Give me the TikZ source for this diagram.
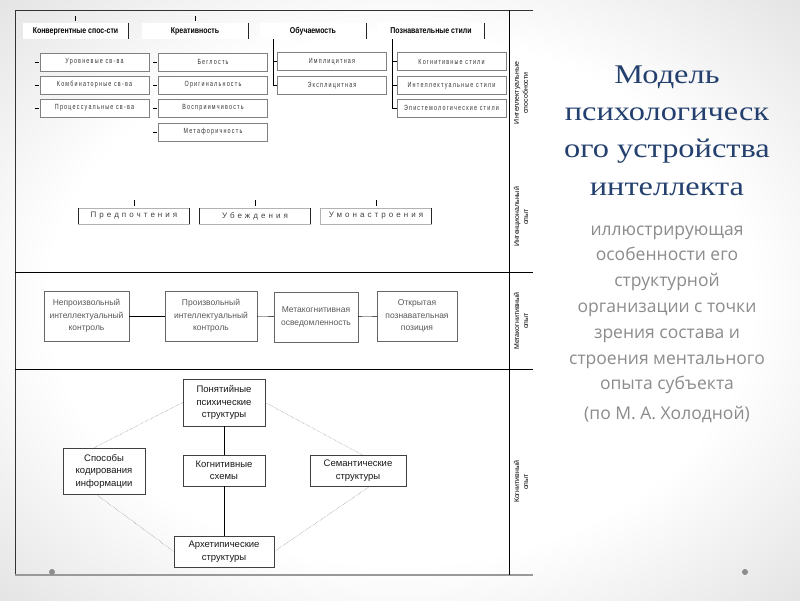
\documentclass[tikz,border=0pt]{standalone}
\usepackage{fontspec}
\setmainfont{Liberation Sans}
\newfontfamily\titlefont[FakeStretch=1.2]{Liberation Serif}
\newfontfamily\leadfont{Open Sans}
\newfontfamily\headfont[FakeStretch=0.82]{Liberation Sans}
\newfontfamily\thinfont[FakeStretch=0.72,LetterSpace=16]{Liberation Sans}
\newfontfamily\widefont[LetterSpace=38]{Liberation Sans}
\usepackage{tikz}
\usetikzlibrary{positioning}
\definecolor{titleblue}{HTML}{24406E}
\definecolor{leadgray}{HTML}{8C8C8C}
\pgfdeclareradialshading{slide}{\pgfpoint{0bp}{0bp}}{color(0bp)=(white); color(22bp)=(white); color(50bp)=(black!22)}
\tikzset{>=latex}
\tikzset{
  head/.style={fill=white, minimum width=106, minimum height=16, inner sep=0pt, font=\headfont\fontsize{8.5}{9}\selectfont\bfseries},
  prop/.style={draw=black!50, fill=white, minimum width=109, minimum height=18, inner sep=0pt, font=\thinfont\fontsize{7.5}{8}\selectfont, text=black!80},
  intent/.style={draw=black!30, fill=white, minimum width=111, minimum height=16, inner sep=0pt, font=\widefont\fontsize{8}{9}\selectfont, text=black!75},
  meta/.style={draw=black!60, fill=white, minimum height=50, inner sep=0pt, align=center, font=\fontsize{8.5}{12.5}\selectfont, text=black!65},
  cog/.style={draw=black!75, fill=white, minimum height=31, inner sep=0pt, align=center, font=\fontsize{9.5}{12.5}\selectfont, text=black!90},
  band/.style={rotate=90, align=center, font=\fontsize{7}{9}\selectfont},
  dotline/.style={densely dotted, black!60},
  edge/.style={line width=1.1pt, black!85}
}
\begin{document}
\begin{tikzpicture}[x=1pt, y=-1pt]
  \useasboundingbox (0,0) rectangle (800,600);
  \shade[shading=slide] (0,0) rectangle (800,600);

  \draw[black!80] (533,10) -- (15,10) -- (15,575);
  \draw[black!40, line width=1.5pt] (15,575) -- (533,575);
  \draw (509,10) -- (509,575);
  \draw (15,272.5) -- (533,272.5);
  \draw (15,369) -- (533,369);
  \fill[black!45] (52,572) circle (3pt);
  \fill[black!45] (745,572) circle (3pt);

  \node (bandint) at (521,93) [band] {Интеллектуальные\\способности};
  \node (bandintent) at (521,217) [band] {Интенциональный\\опыт};
  \node (bandmeta) at (521,321) [band] {Метакогнитивный\\опыт};
  \node (bandcog) at (521,482) [band] {Когнитивный\\опыт};

  \node (conv) at (75.5,31) [head] {Конвергентные спос-сти};
  \node (creat) at (195,31) [head] {Креативность};
  \node (learn) at (313,31) [head] {Обучаемость};
  \node (styl) at (431,31) [head] {Познавательные стили};
  \draw[edge] (conv.north east) -- (conv.south east);
  \draw[edge] (creat.north east) -- (creat.south east);
  \draw[edge] (learn.north east) -- (learn.south east);
  \draw[edge] (styl.north east) -- (styl.south east);
  \draw ([yshift=2pt]conv.north) -- ([yshift=7pt]conv.north);
  \draw ([yshift=2pt]creat.north) -- ([yshift=7pt]creat.north);

  \node (lev) at (94.5,62) [prop] {Уровневые св-ва};
  \node (comb) at (94.5,85) [prop] {Комбинаторные св-ва};
  \node (proc) at (94.5,108) [prop] {Процессуальные св-ва};
  \draw ([xshift=-5pt]lev.west) -- ([xshift=-1pt]lev.west);
  \draw ([xshift=-5pt]comb.west) -- ([xshift=-1pt]comb.west);
  \draw ([xshift=-5pt]proc.west) -- ([xshift=-1pt]proc.west);

  \node (flu) at (213,62) [prop] {Беглость};
  \node (orig) at (213,85) [prop] {Оригинальность};
  \node (recep) at (213,108) [prop] {Восприимчивость};
  \node (metaph) at (213,132) [prop] {Метафоричность};
  \draw ([xshift=-5pt]flu.west) -- ([xshift=-1pt]flu.west);
  \draw ([xshift=-5pt]orig.west) -- ([xshift=-1pt]orig.west);
  \draw ([xshift=-5pt]recep.west) -- ([xshift=-1pt]recep.west);
  \draw ([xshift=-5pt]metaph.west) -- ([xshift=-1pt]metaph.west);

  \node (impl) at (332,61.5) [prop] {Имплицитная};
  \node (expl) at (332,85.5) [prop] {Эксплицитная};
  \draw ([xshift=13pt]learn.south west) |- (impl.west);
  \draw ([xshift=13pt]learn.south west) |- (expl.west);

  \node (cogst) at (451.5,61.5) [prop] {Когнитивные стили};
  \node (intst) at (451.5,85.5) [prop] {Интеллектуальные стили};
  \node (epist) at (451.5,108) [prop] {Эпистемологические стили};
  \draw ([xshift=14pt]styl.south west) |- (cogst.west);
  \draw ([xshift=14pt]styl.south west) |- (intst.west);
  \draw ([xshift=14pt]styl.south west) |- (epist.west);

  \node (pref) at (134,216) [intent] {Предпочтения};
  \node (belief) at (255,216) [intent] {Убеждения};
  \node (mind) at (376,216) [intent] {Умонастроения};
  \draw[edge] (pref.north west) -- (pref.south west);
  \draw[edge] (pref.north east) -- (pref.south east);
  \draw[edge] (belief.north west) -- (belief.south west);
  \draw[edge] (belief.north east) -- (belief.south east);
  \draw[edge] (mind.north east) -- (mind.south east);
  \draw ([yshift=2pt]pref.north) -- ([yshift=8pt]pref.north);
  \draw ([yshift=2pt]belief.north) -- ([yshift=8pt]belief.north);
  \draw ([yshift=2pt]mind.north) -- ([yshift=8pt]mind.north);

  \node (invol) at (86.5,316) [meta, minimum width=85] {Непроизвольный\\интеллектуальный\\контроль};
  \node (volun) at (211,316) [meta, minimum width=92] {Произвольный\\интеллектуальный\\контроль};
  \node (aware) at (316,317) [meta, minimum width=84] {Метакогнитивная\\осведомленность};
  \node (open) at (417,316) [meta, minimum width=80] {Открытая\\познавательная\\позиция};
  \draw (invol) -- (volun);
  \draw (volun) -- (aware);
  \draw (aware) -- (open);

  \node (concept) at (224,402.5) [cog, minimum width=82, minimum height=47] {Понятийные\\психические\\структуры};
  \node (coding) at (104,471) [cog, minimum width=82, minimum height=46] {Способы\\кодирования\\информации};
  \node (schema) at (224,470.5) [cog, minimum width=82] {Когнитивные\\схемы};
  \node (seman) at (358,470.5) [cog, minimum width=96] {Семантические\\структуры};
  \node (arche) at (224,551.5) [cog, minimum width=100] {Архетипические\\структуры};
  \draw (concept) -- (schema);
  \draw (schema) -- (arche);
  \draw[dotline] (concept.west) -- ([xshift=-10pt]coding.north);
  \draw[dotline] (concept.east) -- ([xshift=4pt]seman.north);
  \draw[dotline] ([xshift=-8pt]coding.south) -- (arche.west);
  \draw[dotline] ([xshift=12pt]seman.south) -- (arche.east);

  \node (title) at (667,62) [anchor=north, align=center, text=titleblue, font=\titlefont\fontsize{27}{37.3}\selectfont] {Модель\\психологическ\\ого устройства\\интеллекта};
  \node (lead) at (667,222) [anchor=north, align=center, text=leadgray, font=\leadfont\fontsize{17.5}{25.8}\selectfont] {иллюстрирующая\\особенности его\\структурной\\организации с точки\\зрения состава и\\строения ментального\\опыта субъекта};
  \node (author) at (667,414) [text=leadgray, font=\leadfont\fontsize{17.5}{20}\selectfont] {(по М. А. Холодной)};
\end{tikzpicture}
\end{document}
